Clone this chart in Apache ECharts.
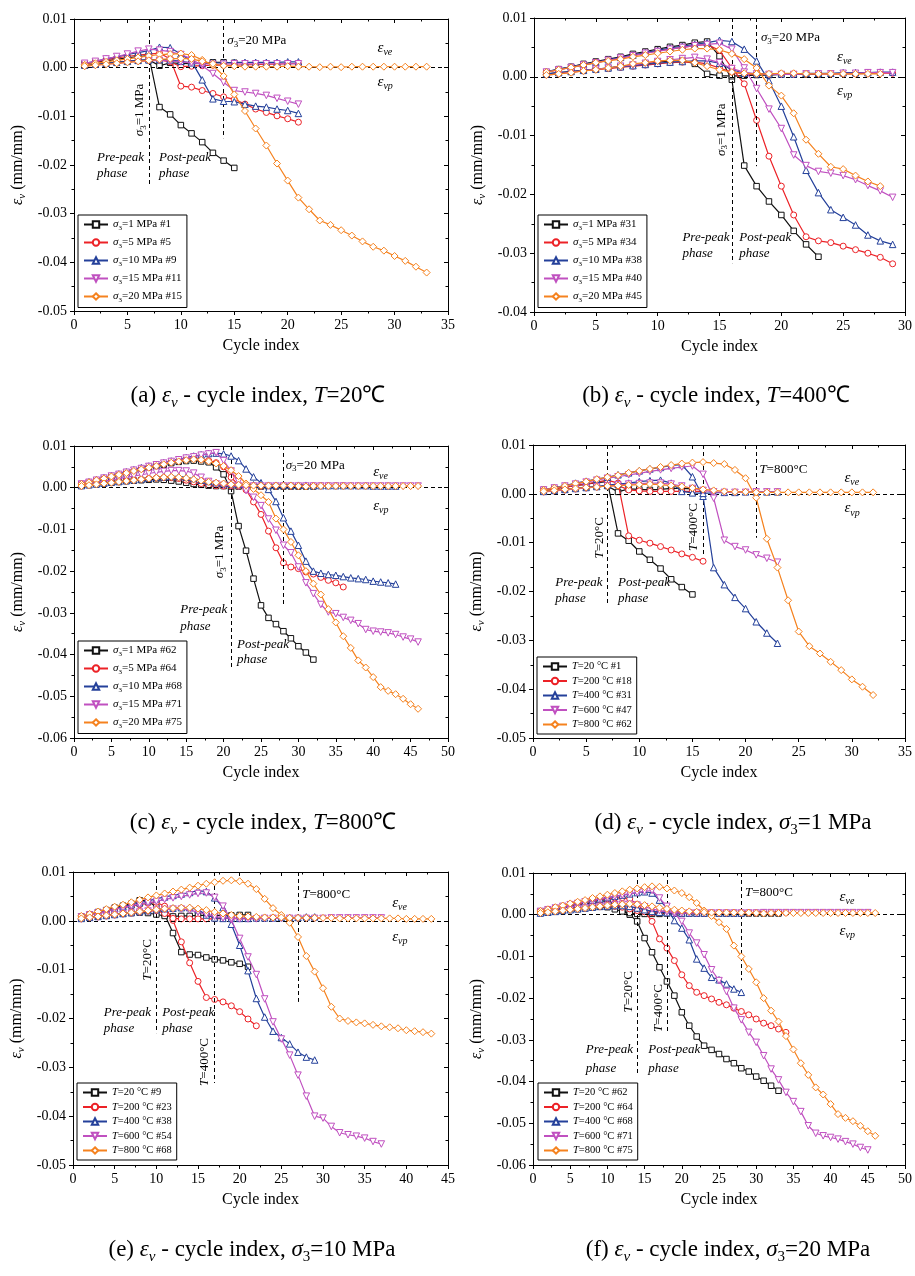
<!DOCTYPE html>
<html><head><meta charset="utf-8">
<script src="https://cdn.jsdelivr.net/npm/echarts/dist/echarts.min.js"></script>
<style>html,body{margin:0;padding:0;background:#fff}#c{width:915px;height:1276px}</style>
</head><body><div id="c"></div>
<script>
// ---------------- DATA (cycle index = position + 1) ----------------
// (a) T=20 °C
const a1_v = [0.0008,0.0011,0.0014,0.0017,0.0020,0.0023,0.0025,-0.0081,-0.0096,-0.0118,-0.0135,-0.0153,-0.0175,-0.0191,-0.0206];
const a1_ve = [0.0005,0.0007,0.0009,0.0011,0.0013,0.0015,0.0016,0.0004,0.0010,0.0009,0.0008,0.0009,0.0011,0.0011,0.0010];
const a2_v = [0.0008,0.0012,0.0016,0.0020,0.0023,0.0026,0.0028,0.0030,0.0018,-0.0038,-0.0040,-0.0047,-0.0053,-0.0060,-0.0065,-0.0075,-0.0085,-0.0092,-0.0099,-0.0105,-0.0112];
const a2_ve = [0.0004,0.0006,0.0008,0.0010,0.0012,0.0014,0.0015,0.0016,0.0012,0.0002,0.0003,0.0004,0.0005,0.0005,0.0005,0.0006,0.0006,0.0007,0.0007,0.0008,0.0008];
const a3_v = [0.0009,0.0013,0.0018,0.0022,0.0027,0.0031,0.0035,0.0042,0.0041,0.0028,0.0013,-0.0025,-0.0064,-0.0069,-0.0070,-0.0075,-0.0079,-0.0081,-0.0085,-0.0088,-0.0094];
const a3_ve = [0.0005,0.0007,0.0009,0.0011,0.0013,0.0015,0.0016,0.0017,0.0016,0.0013,0.0010,0.0009,0.0010,0.0010,0.0011,0.0011,0.0011,0.0011,0.0011,0.0012,0.0012];
const a4_v = [0.0009,0.0013,0.0018,0.0023,0.0028,0.0034,0.0038,0.0036,0.0033,0.0027,0.0018,0.0004,-0.0012,-0.0030,-0.0047,-0.0050,-0.0053,-0.0057,-0.0063,-0.0069,-0.0075];
const a4_ve = [0.0003,0.0005,0.0007,0.0009,0.0011,0.0013,0.0014,0.0015,0.0014,0.0012,0.0010,0.0008,0.0007,0.0007,0.0008,0.0008,0.0008,0.0008,0.0008,0.0008,0.0008];
const a5_v = [0.0006,0.0009,0.0012,0.0015,0.0018,0.0021,0.0024,0.0027,0.0028,0.0029,0.0026,0.0016,0.0005,-0.0017,-0.0055,-0.0089,-0.0125,-0.0160,-0.0197,-0.0232,-0.0267,-0.0291,-0.0314,-0.0323,-0.0334,-0.0345,-0.0357,-0.0368,-0.0376,-0.0387,-0.0397,-0.0409,-0.0421];
const a5_ve = [0.0003,0.0005,0.0007,0.0009,0.0011,0.0013,0.0015,0.0017,0.0018,0.0019,0.0018,0.0013,0.0008,0.0004,0.0003,0.0002,0.0002,0.0002,0.0002,0.0003,0.0002,0.0002,0.0001,0.0002,0.0001,0.0002,0.0002,0.0002,0.0002,0.0002,0.0002,0.0002,0.0002];
// (b) T=400 °C
const b1_v = [0.0008,0.0013,0.0017,0.0022,0.0026,0.0030,0.0034,0.0039,0.0043,0.0047,0.0051,0.0054,0.0058,0.0060,0.0035,-0.0005,-0.0151,-0.0186,-0.0212,-0.0235,-0.0262,-0.0285,-0.0306];
const b1_ve = [0.0005,0.0007,0.0009,0.0011,0.0013,0.0015,0.0018,0.0020,0.0022,0.0025,0.0027,0.0028,0.0022,0.0005,0.0002,0.0001,0.0002,0.0003,0.0003,0.0004,0.0004,0.0004,0.0004];
const b2_v = [0.0008,0.0012,0.0016,0.0020,0.0024,0.0028,0.0032,0.0036,0.0040,0.0044,0.0047,0.0050,0.0053,0.0055,0.0045,0.0015,-0.0012,-0.0074,-0.0135,-0.0186,-0.0235,-0.0272,-0.0279,-0.0282,-0.0288,-0.0294,-0.0300,-0.0307,-0.0318];
const b2_ve = [0.0004,0.0006,0.0008,0.0010,0.0012,0.0014,0.0016,0.0018,0.0020,0.0022,0.0024,0.0025,0.0025,0.0022,0.0015,0.0008,0.0005,0.0004,0.0004,0.0004,0.0005,0.0005,0.0005,0.0005,0.0005,0.0005,0.0006,0.0006,0.0006];
const b3_v = [0.0009,0.0013,0.0017,0.0021,0.0025,0.0029,0.0033,0.0037,0.0041,0.0045,0.0049,0.0052,0.0055,0.0058,0.0062,0.0060,0.0047,0.0027,-0.0007,-0.0050,-0.0102,-0.0159,-0.0197,-0.0226,-0.0239,-0.0252,-0.0269,-0.0279,-0.0285];
const b3_ve = [0.0005,0.0007,0.0009,0.0011,0.0013,0.0015,0.0017,0.0019,0.0021,0.0023,0.0025,0.0026,0.0027,0.0027,0.0023,0.0012,0.0006,0.0005,0.0005,0.0005,0.0005,0.0006,0.0006,0.0006,0.0007,0.0007,0.0007,0.0008,0.0008];
const b4_v = [0.0008,0.0012,0.0016,0.0020,0.0024,0.0028,0.0032,0.0036,0.0040,0.0043,0.0047,0.0050,0.0053,0.0055,0.0057,0.0047,0.0015,-0.0020,-0.0055,-0.0088,-0.0133,-0.0151,-0.0161,-0.0164,-0.0168,-0.0175,-0.0185,-0.0194,-0.0205];
const b4_ve = [0.0003,0.0005,0.0008,0.0010,0.0013,0.0015,0.0018,0.0020,0.0023,0.0026,0.0029,0.0031,0.0033,0.0030,0.0024,0.0014,0.0008,0.0005,0.0004,0.0004,0.0004,0.0005,0.0005,0.0005,0.0006,0.0006,0.0007,0.0007,0.0007];
const b5_v = [0.0008,0.0012,0.0016,0.0020,0.0024,0.0027,0.0030,0.0034,0.0037,0.0040,0.0043,0.0046,0.0048,0.0048,0.0046,0.0039,0.0030,0.0015,-0.0015,-0.0032,-0.0062,-0.0107,-0.0131,-0.0153,-0.0157,-0.0168,-0.0178,-0.0186];
const b5_ve = [0.0003,0.0005,0.0007,0.0010,0.0012,0.0015,0.0018,0.0022,0.0024,0.0027,0.0028,0.0028,0.0024,0.0018,0.0012,0.0008,0.0006,0.0005,0.0005,0.0006,0.0006,0.0005,0.0005,0.0005,0.0005,0.0005,0.0005,0.0005];
// (c) T=800 °C
const c1_v = [0.0008,0.0012,0.0016,0.0021,0.0025,0.0030,0.0034,0.0038,0.0043,0.0047,0.0051,0.0055,0.0059,0.0062,0.0064,0.0065,0.0063,0.0061,0.0049,0.0032,-0.0008,-0.0092,-0.0151,-0.0218,-0.0282,-0.0312,-0.0327,-0.0344,-0.0361,-0.0380,-0.0395,-0.0412];
const c1_ve = [0.0005,0.0007,0.0009,0.0011,0.0013,0.0014,0.0016,0.0017,0.0018,0.0019,0.0020,0.0019,0.0017,0.0015,0.0012,0.0009,0.0007,0.0005,0.0004,0.0004,0.0003,0.0003,0.0003,0.0003,0.0003,0.0003,0.0003,0.0003,0.0003,0.0003,0.0003,0.0003];
const c2_v = [0.0009,0.0013,0.0018,0.0023,0.0027,0.0032,0.0036,0.0041,0.0045,0.0050,0.0054,0.0058,0.0062,0.0065,0.0068,0.0070,0.0068,0.0065,0.0060,0.0050,0.0025,0.0006,-0.0005,-0.0034,-0.0064,-0.0104,-0.0144,-0.0180,-0.0190,-0.0194,-0.0202,-0.0207,-0.0215,-0.0222,-0.0228,-0.0238];
const c2_ve = [0.0004,0.0006,0.0008,0.0010,0.0012,0.0014,0.0016,0.0018,0.0020,0.0022,0.0023,0.0024,0.0024,0.0022,0.0018,0.0014,0.0010,0.0007,0.0005,0.0004,0.0004,0.0004,0.0004,0.0004,0.0004,0.0004,0.0004,0.0004,0.0004,0.0004,0.0004,0.0005,0.0005,0.0005,0.0005,0.0005];
const c3_v = [0.0010,0.0014,0.0019,0.0024,0.0029,0.0033,0.0038,0.0043,0.0048,0.0052,0.0056,0.0060,0.0064,0.0068,0.0072,0.0076,0.0079,0.0082,0.0083,0.0081,0.0076,0.0065,0.0045,0.0026,0.0012,-0.0004,-0.0033,-0.0072,-0.0104,-0.0138,-0.0176,-0.0200,-0.0205,-0.0208,-0.0210,-0.0213,-0.0216,-0.0218,-0.0220,-0.0224,-0.0226,-0.0228,-0.0231];
const c3_ve = [0.0005,0.0007,0.0009,0.0011,0.0013,0.0015,0.0017,0.0019,0.0021,0.0023,0.0025,0.0026,0.0027,0.0027,0.0025,0.0022,0.0018,0.0015,0.0012,0.0010,0.0009,0.0008,0.0007,0.0007,0.0007,0.0006,0.0006,0.0006,0.0006,0.0006,0.0006,0.0005,0.0005,0.0005,0.0005,0.0005,0.0005,0.0005,0.0005,0.0004,0.0004,0.0004,0.0004];
const c4_v = [0.0009,0.0013,0.0018,0.0023,0.0028,0.0032,0.0037,0.0042,0.0046,0.0051,0.0055,0.0059,0.0063,0.0067,0.0071,0.0074,0.0078,0.0081,0.0084,0.0065,0.0040,0.0015,-0.0007,-0.0023,-0.0043,-0.0075,-0.0102,-0.0138,-0.0156,-0.0190,-0.0228,-0.0254,-0.0280,-0.0298,-0.0302,-0.0311,-0.0318,-0.0326,-0.0340,-0.0344,-0.0346,-0.0348,-0.0352,-0.0358,-0.0363,-0.0370];
const c4_ve = [0.0006,0.0010,0.0013,0.0016,0.0019,0.0022,0.0025,0.0028,0.0031,0.0034,0.0037,0.0039,0.0041,0.0041,0.0040,0.0035,0.0025,0.0015,0.0009,0.0006,0.0005,0.0004,0.0004,0.0004,0.0004,0.0004,0.0004,0.0004,0.0004,0.0004,0.0004,0.0004,0.0004,0.0004,0.0004,0.0004,0.0004,0.0004,0.0004,0.0004,0.0004,0.0004,0.0004,0.0004,0.0004,0.0004];
const c5_v = [0.0009,0.0013,0.0018,0.0022,0.0027,0.0031,0.0035,0.0040,0.0044,0.0048,0.0052,0.0056,0.0060,0.0063,0.0066,0.0068,0.0067,0.0063,0.0058,0.0052,0.0042,0.0028,0.0010,-0.0003,-0.0018,-0.0034,-0.0074,-0.0100,-0.0130,-0.0162,-0.0200,-0.0230,-0.0256,-0.0291,-0.0323,-0.0356,-0.0384,-0.0414,-0.0431,-0.0454,-0.0478,-0.0487,-0.0495,-0.0506,-0.0519,-0.0530];
const c5_ve = [0.0004,0.0006,0.0008,0.0010,0.0012,0.0014,0.0016,0.0018,0.0020,0.0022,0.0024,0.0025,0.0026,0.0025,0.0023,0.0020,0.0017,0.0014,0.0012,0.0010,0.0008,0.0007,0.0006,0.0005,0.0005,0.0005,0.0005,0.0005,0.0005,0.0004,0.0003,0.0004,0.0004,0.0004,0.0004,0.0004,0.0004,0.0004,0.0004,0.0004,0.0004,0.0004,0.0004,0.0004,0.0004,0.0004];
// (d) σ3=1 MPa (extra samples)
const d2_v = [0.0007,0.0010,0.0013,0.0017,0.0020,0.0024,0.0028,0.0022,-0.0086,-0.0095,-0.0101,-0.0108,-0.0115,-0.0123,-0.0130,-0.0138];
const d2_ve = [0.0004,0.0006,0.0008,0.0010,0.0012,0.0014,0.0016,0.0017,0.0008,0.0006,0.0005,0.0005,0.0005,0.0005,0.0005,0.0005];
const d4_v = [0.0008,0.0012,0.0016,0.0020,0.0024,0.0028,0.0032,0.0035,0.0039,0.0042,0.0046,0.0049,0.0052,0.0055,0.0057,0.0040,-0.0009,-0.0095,-0.0108,-0.0115,-0.0125,-0.0132,-0.0140];
const d4_ve = [0.0004,0.0006,0.0008,0.0010,0.0012,0.0014,0.0016,0.0018,0.0020,0.0021,0.0022,0.0022,0.0020,0.0016,0.0011,0.0007,0.0004,0.0003,0.0003,0.0003,0.0004,0.0004,0.0004];
// (e) σ3=10 MPa (extra samples)
const e2_v = [0.0008,0.0012,0.0016,0.0020,0.0024,0.0027,0.0030,0.0033,0.0036,0.0038,0.0030,0.0001,-0.0043,-0.0086,-0.0124,-0.0157,-0.0161,-0.0166,-0.0174,-0.0186,-0.0201,-0.0215];
const e2_ve = [0.0004,0.0006,0.0008,0.0010,0.0012,0.0014,0.0016,0.0018,0.0020,0.0021,0.0015,0.0005,0.0004,0.0004,0.0004,0.0004,0.0004,0.0005,0.0005,0.0005,0.0005,0.0005];
const e4_v = [0.0008,0.0012,0.0016,0.0020,0.0024,0.0027,0.0031,0.0034,0.0037,0.0040,0.0044,0.0047,0.0050,0.0053,0.0056,0.0057,0.0048,0.0030,0.0002,-0.0036,-0.0074,-0.0110,-0.0160,-0.0207,-0.0242,-0.0275,-0.0316,-0.0359,-0.0400,-0.0404,-0.0421,-0.0434,-0.0438,-0.0441,-0.0445,-0.0452,-0.0457];
const e4_ve = [0.0004,0.0006,0.0008,0.0010,0.0012,0.0014,0.0016,0.0018,0.0020,0.0022,0.0023,0.0024,0.0024,0.0022,0.0018,0.0013,0.0009,0.0006,0.0005,0.0004,0.0004,0.0004,0.0005,0.0005,0.0005,0.0005,0.0005,0.0005,0.0005,0.0005,0.0006,0.0006,0.0006,0.0006,0.0006,0.0006,0.0006];
// (f) σ3=20 MPa (extra samples)
const f1_v = [0.0008,0.0011,0.0014,0.0017,0.0020,0.0023,0.0026,0.0029,0.0032,0.0034,0.0024,0.0010,0.0000,-0.0016,-0.0056,-0.0090,-0.0126,-0.0160,-0.0194,-0.0234,-0.0266,-0.0292,-0.0314,-0.0324,-0.0334,-0.0346,-0.0356,-0.0368,-0.0376,-0.0388,-0.0398,-0.0410,-0.0422];
const f1_ve = [0.0004,0.0006,0.0008,0.0010,0.0012,0.0014,0.0016,0.0018,0.0019,0.0018,0.0013,0.0008,0.0004,0.0002,0.0002,0.0002,0.0002,0.0003,0.0003,0.0003,0.0003,0.0003,0.0003,0.0003,0.0003,0.0003,0.0003,0.0003,0.0003,0.0003,0.0003,0.0003,0.0003];
const f2_v = [0.0008,0.0012,0.0016,0.0020,0.0023,0.0026,0.0029,0.0032,0.0035,0.0038,0.0040,0.0041,0.0038,0.0025,0.0008,-0.0016,-0.0058,-0.0080,-0.0110,-0.0144,-0.0170,-0.0186,-0.0194,-0.0202,-0.0210,-0.0216,-0.0224,-0.0232,-0.0240,-0.0250,-0.0260,-0.0266,-0.0274,-0.0282];
const f2_ve = [0.0004,0.0006,0.0008,0.0010,0.0012,0.0014,0.0016,0.0018,0.0019,0.0020,0.0020,0.0018,0.0014,0.0010,0.0007,0.0005,0.0005,0.0005,0.0005,0.0005,0.0005,0.0005,0.0005,0.0005,0.0005,0.0005,0.0005,0.0005,0.0005,0.0005,0.0005,0.0005,0.0005,0.0005];
const f3_v = [0.0008,0.0012,0.0016,0.0020,0.0024,0.0028,0.0031,0.0035,0.0038,0.0041,0.0044,0.0047,0.0050,0.0053,0.0055,0.0052,0.0035,0.0016,-0.0014,-0.0032,-0.0060,-0.0106,-0.0128,-0.0150,-0.0156,-0.0166,-0.0178,-0.0186];
const f3_ve = [0.0004,0.0006,0.0008,0.0010,0.0012,0.0014,0.0016,0.0018,0.0020,0.0021,0.0022,0.0022,0.0020,0.0016,0.0012,0.0008,0.0006,0.0005,0.0004,0.0004,0.0004,0.0004,0.0004,0.0004,0.0004,0.0004,0.0004,0.0004];
const f4_v = [0.0008,0.0012,0.0016,0.0020,0.0024,0.0027,0.0031,0.0034,0.0038,0.0041,0.0044,0.0047,0.0050,0.0053,0.0056,0.0058,0.0040,0.0020,0.0003,-0.0016,-0.0044,-0.0068,-0.0096,-0.0132,-0.0158,-0.0184,-0.0224,-0.0252,-0.0282,-0.0306,-0.0338,-0.0370,-0.0396,-0.0426,-0.0448,-0.0472,-0.0506,-0.0524,-0.0530,-0.0534,-0.0538,-0.0544,-0.0550,-0.0558,-0.0564];
const f4_ve = [0.0004,0.0006,0.0008,0.0010,0.0012,0.0014,0.0016,0.0018,0.0020,0.0022,0.0024,0.0025,0.0025,0.0023,0.0019,0.0014,0.0010,0.0007,0.0005,0.0004,0.0004,0.0004,0.0004,0.0004,0.0004,0.0004,0.0004,0.0004,0.0004,0.0004,0.0005,0.0005,0.0005,0.0005,0.0005,0.0005,0.0005,0.0005,0.0005,0.0005,0.0005,0.0005,0.0005,0.0005,0.0005];

// legend names
const names_a = ['σ3=1 MPa #1','σ3=5 MPa #5','σ3=10 MPa #9','σ3=15 MPa #11','σ3=20 MPa #15'];
const names_b = ['σ3=1 MPa #31','σ3=5 MPa #34','σ3=10 MPa #38','σ3=15 MPa #40','σ3=20 MPa #45'];
const names_c = ['σ3=1 MPa #62','σ3=5 MPa #64','σ3=10 MPa #68','σ3=15 MPa #71','σ3=20 MPa #75'];
const names_d = ['T=20 °C #1','T=200 °C #18','T=400 °C #31','T=600 °C #47','T=800 °C #62'];
const names_e = ['T=20 °C #9','T=200 °C #23','T=400 °C #38','T=600 °C #54','T=800 °C #68'];
const names_f = ['T=20 °C #62','T=200 °C #64','T=400 °C #68','T=600 °C #71','T=800 °C #75'];

// axis ranges
const xMax = [35, 30, 50, 35, 45, 50];
const yMin = [-0.05, -0.04, -0.06, -0.05, -0.05, -0.06];
const X_TITLE = 'Cycle index';

// phase-boundary dashed lines: [cycle, lower end]
const vlines_a = [[7,-0.0241],[14,-0.0145]];
const vlines_b = [[16,-0.0317],[18,-0.0152]];
const vlines_c = [[21,-0.0432],[28,-0.0284]];
const vlines_d = [[7,-0.0228],[16,-0.0125],[21,-0.0090]];
const vlines_e = [[10,-0.0230],[17,-0.0332],[27,-0.0166]];
const vlines_f = [[14,-0.0380],[18,-0.0281],[28,-0.0157]];

// ---------------- LAYOUT / STYLE ----------------
const FONT = 'Liberation Serif';
const COLORS = ['#111111','#ec2227','#24409a','#c050c0','#f5821f'];
const SYMBOLS = ['rect','circle','triangle','path://M0,0L10,0L5,9Z','diamond'];
const SIZES = [5.5,6,6.5,6.5,7];

const SIG = '{i|σ}{s|3}';
const EV = '{i|ε}{si|v}';
const panels = [
  {grid:[74,19,374,292], names:names_a, v:[a1_v,a2_v,a3_v,a4_v,a5_v], ve:[a1_ve,a2_ve,a3_ve,a4_ve,a5_ve], lines:vlines_a,
   legend:[78,215,11,5.5], caption:['{n|(a) }'+EV+'{n| - cycle index, }{i|T}{n|=20℃}',258,396],
   notes:[[SIG+'{n|=1 MPa}',6.18,-0.0087,'rot',13],[SIG+'{n|=20 MPa}',14.35,0.0055,'left',13],
     ['{g|Pre-peak}',2.15,-0.0184,'left',13],['{g|phase}',2.15,-0.0218,'left',13],
     ['{g|Post-peak}',7.95,-0.0184,'left',13],['{g|phase}',7.95,-0.0218,'left',13],
     ['{i|ε}{si|ve}',28.4,0.0040,'left',15],['{i|ε}{si|vp}',28.4,-0.0029,'left',15]]},
  {grid:[534,18,374,294], names:names_b, v:[b1_v,b2_v,b3_v,b4_v,b5_v], ve:[b1_ve,b2_ve,b3_ve,b4_ve,b5_ve], lines:vlines_b,
   legend:[538,215,11,5.5], caption:['{n|(b) }'+EV+'{n| - cycle index, }{i|T}{n|=400℃}',716,396],
   notes:[[SIG+'{n|=1 MPa}',15.16,-0.0090,'rot',13],[SIG+'{n|=20 MPa}',18.35,0.0066,'left',13],
     ['{g|Pre-peak}',12.0,-0.0273,'left',13],['{g|phase}',12.0,-0.0301,'left',13],
     ['{g|Post-peak}',16.6,-0.0273,'left',13],['{g|phase}',16.6,-0.0301,'left',13],
     ['{i|ε}{si|ve}',24.5,0.0034,'left',15],['{i|ε}{si|vp}',24.5,-0.0024,'left',15]]},
  {grid:[74,446,374,292], names:names_c, v:[c1_v,c2_v,c3_v,c4_v,c5_v], ve:[c1_ve,c2_ve,c3_ve,c4_ve,c5_ve], lines:vlines_c,
   legend:[78,641,11,5.5], caption:['{n|(c) }'+EV+'{n| - cycle index, }{i|T}{n|=800℃}',263,823],
   notes:[[SIG+'{n|=1 MPa}',19.5,-0.0154,'rot',13],[SIG+'{n|=20 MPa}',28.3,0.0054,'left',13],
     ['{g|Pre-peak}',14.2,-0.0293,'left',13],['{g|phase}',14.2,-0.0334,'left',13],
     ['{g|Post-peak}',21.8,-0.0375,'left',13],['{g|phase}',21.8,-0.0413,'left',13],
     ['{i|ε}{si|ve}',40.0,0.0038,'left',15],['{i|ε}{si|vp}',40.0,-0.0044,'left',15]]},
  {grid:[533,445,376,293], names:names_d, v:[a1_v,d2_v,b1_v,d4_v,c1_v], ve:[a1_ve,d2_ve,b1_ve,d4_ve,c1_ve], lines:vlines_d,
   legend:[537,657,10.5,3.5], caption:['{n|(d) }'+EV+'{n| - cycle index, }'+SIG+'{n|=1 MPa}',733,823],
   notes:[['{i|T}{n|=20°C}',6.24,-0.0090,'rot',13],['{i|T}{n|=400°C}',15.1,-0.0068,'rot',13],['{i|T}{n|=800°C}',21.3,0.0049,'left',13],
     ['{g|Pre-peak}',2.1,-0.0181,'left',13],['{g|phase}',2.1,-0.0215,'left',13],
     ['{g|Post-peak}',8.0,-0.0181,'left',13],['{g|phase}',8.0,-0.0215,'left',13],
     ['{i|ε}{si|ve}',29.3,0.0032,'left',15],['{i|ε}{si|vp}',29.3,-0.0030,'left',15]]},
  {grid:[73,872,375,293], names:names_e, v:[a3_v,e2_v,b3_v,e4_v,c3_v], ve:[a3_ve,e2_ve,b3_ve,e4_ve,c3_ve], lines:vlines_e,
   legend:[77,1083,10.5,3.5], caption:['{n|(e) }'+EV+'{n| - cycle index, }'+SIG+'{n|=10 MPa}',252,1250],
   notes:[['{i|T}{n|=20°C}',8.9,-0.0080,'rot',13],['{i|T}{n|=400°C}',15.8,-0.0289,'rot',13],['{i|T}{n|=800°C}',27.5,0.0053,'left',13],
     ['{g|Pre-peak}',3.7,-0.0187,'left',13],['{g|phase}',3.7,-0.0220,'left',13],
     ['{g|Post-peak}',10.7,-0.0187,'left',13],['{g|phase}',10.7,-0.0220,'left',13],
     ['{i|ε}{si|ve}',38.3,0.0036,'left',15],['{i|ε}{si|vp}',38.3,-0.0033,'left',15]]},
  {grid:[533,873,375,292], names:names_f, v:[f1_v,f2_v,f3_v,f4_v,c5_v], ve:[f1_ve,f2_ve,f3_ve,f4_ve,c5_ve], lines:vlines_f,
   legend:[538,1083,10.5,3.5], caption:['{n|(f) }'+EV+'{n| - cycle index, }'+SIG+'{n|=20 MPa}',728,1250],
   notes:[['{i|T}{n|=20°C}',12.8,-0.0185,'rot',13],['{i|T}{n|=400°C}',16.9,-0.0224,'rot',13],['{i|T}{n|=800°C}',28.5,0.0052,'left',13],
     ['{g|Pre-peak}',7.1,-0.0324,'left',13],['{g|phase}',7.1,-0.0368,'left',13],
     ['{g|Post-peak}',15.5,-0.0324,'left',13],['{g|phase}',15.5,-0.0368,'left',13],
     ['{i|ε}{si|ve}',41.2,0.0042,'left',15],['{i|ε}{si|vp}',41.2,-0.0039,'left',15]]}
];

function R(fs){
  const lh = Math.round(fs*1.25), sf = Math.round(fs*0.66);
  return {
    n:{fontFamily:FONT,fontSize:fs,lineHeight:lh,verticalAlign:'middle',color:'#000'},
    i:{fontFamily:FONT,fontSize:fs,lineHeight:lh,verticalAlign:'middle',fontStyle:'italic',color:'#000'},
    g:{fontFamily:FONT,fontSize:fs,lineHeight:lh,verticalAlign:'middle',fontStyle:'italic',color:'#333'},
    s:{fontFamily:FONT,fontSize:sf,lineHeight:sf,verticalAlign:'bottom',color:'#000'},
    si:{fontFamily:FONT,fontSize:sf,lineHeight:sf,verticalAlign:'bottom',fontStyle:'italic',color:'#000'}
  };
}
function toRich(s){
  if (s.indexOf('σ3') === 0) return SIG + '{n|' + s.slice(2) + '}';
  if (s.indexOf('T') === 0) return '{i|T}{n|' + s.slice(1) + '}';
  return '{n|' + s + '}';
}
const toXY = arr => arr.map((v, j) => [j + 1, v]);
const fmtY = v => (Math.abs(v) < 1e-9 ? '0.00' : v.toFixed(2));

const chart = echarts.init(document.getElementById('c'));
const option = {animation:false, backgroundColor:'#fff', grid:[], xAxis:[], yAxis:[], legend:[], series:[]};
const AX = {color:'#000', width:1};
panels.forEach((p, gi) => {
  option.grid.push({left:p.grid[0], top:p.grid[1], width:p.grid[2], height:p.grid[3]});
  const base = {type:'value', gridIndex:gi, axisLine:{onZero:false, lineStyle:AX}, splitLine:{show:false}};
  option.xAxis.push(Object.assign({}, base, {min:0, max:xMax[gi], interval:5, position:'bottom',
    axisTick:{length:4, lineStyle:AX}, minorTick:{show:true, splitNumber:2, length:2.5, lineStyle:AX},
    axisLabel:{color:'#000', fontFamily:FONT, fontSize:14, margin:7},
    name:X_TITLE, nameLocation:'middle', nameGap:27, nameTextStyle:{color:'#000', fontFamily:FONT, fontSize:16}}));
  option.xAxis.push(Object.assign({}, base, {min:0, max:xMax[gi], interval:5, position:'top',
    axisTick:{inside:true, length:4, lineStyle:AX}, minorTick:{show:true, splitNumber:2, length:2.5, lineStyle:AX},
    axisLabel:{show:false}}));
  option.yAxis.push(Object.assign({}, base, {min:yMin[gi], max:0.01, interval:0.01, position:'left',
    axisTick:{length:4, lineStyle:AX}, minorTick:{show:true, splitNumber:2, length:2.5, lineStyle:AX},
    axisLabel:{color:'#000', fontFamily:FONT, fontSize:14, margin:7, formatter:fmtY},
    name:'{i|ε}{si|v}{n| (mm/mm)}', nameLocation:'middle', nameGap:46, nameRotate:90,
    nameTextStyle:{fontFamily:FONT, fontSize:16, rich:R(16)}}));
  option.yAxis.push(Object.assign({}, base, {min:yMin[gi], max:0.01, interval:0.01, position:'right',
    axisTick:{inside:true, length:4, lineStyle:AX}, minorTick:{show:true, splitNumber:2, length:2.5, lineStyle:AX},
    axisLabel:{show:false}}));
  const [lx, ly, lfs, lgap] = p.legend;
  option.legend.push({orient:'vertical', left:lx, top:ly, data:p.names, formatter:toRich, selectedMode:false,
    itemWidth:24, itemHeight:8, itemGap:lgap, padding:[4,5,4,5], borderColor:'#000', borderWidth:1, backgroundColor:'#fff',
    textStyle:{fontFamily:FONT, fontSize:lfs, color:'#000', rich:R(lfs)}});
  for (let k = 0; k < 5; k++) {
    const common = {type:'line', name:p.names[k], xAxisIndex:2*gi, yAxisIndex:2*gi,
      symbol:SYMBOLS[k], symbolSize:SIZES[k], showSymbol:true, showAllSymbol:true,
      lineStyle:{color:COLORS[k], width:1.2}, itemStyle:{color:'#fff', borderColor:COLORS[k], borderWidth:1},
      emphasis:{disabled:true}, silent:true, z:3+k};
    const s1 = Object.assign({}, common, {data:toXY(p.v[k])});
    if (k === 0) {
      s1.markLine = {silent:true, symbol:['none','none'], label:{show:false}, animation:false,
        lineStyle:{color:'#000', type:[4,3], width:1},
        data:[{yAxis:0}].concat(p.lines.map(l => [{coord:[l[0], 0.01]}, {coord:[l[0], l[1]]}]))};
    }
    option.series.push(s1);
    option.series.push(Object.assign({}, common, {data:toXY(p.ve[k])}));
  }
});
chart.setOption(option);

const gfx = [];
panels.forEach((p, gi) => {
  p.notes.forEach(n => {
    const [px, py] = chart.convertToPixel({xAxisIndex:2*gi, yAxisIndex:2*gi}, [n[1], n[2]]);
    const rot = n[3] === 'rot';
    gfx.push({type:'text', x:px, y:py, rotation: rot ? Math.PI/2 : 0, z:100, silent:true,
      style:{text:n[0], rich:R(n[4]), fontFamily:FONT, fontSize:n[4], fill:'#000',
        align: rot ? 'center' : 'left', verticalAlign:'middle'}});
  });
  const c = p.caption;
  gfx.push({type:'text', x:c[1], y:c[2], z:100, silent:true,
    style:{text:c[0], rich:R(23), fontFamily:FONT, fontSize:23, fill:'#000', align:'center', verticalAlign:'middle'}});
});
chart.setOption({graphic:gfx});
</script></body></html>
